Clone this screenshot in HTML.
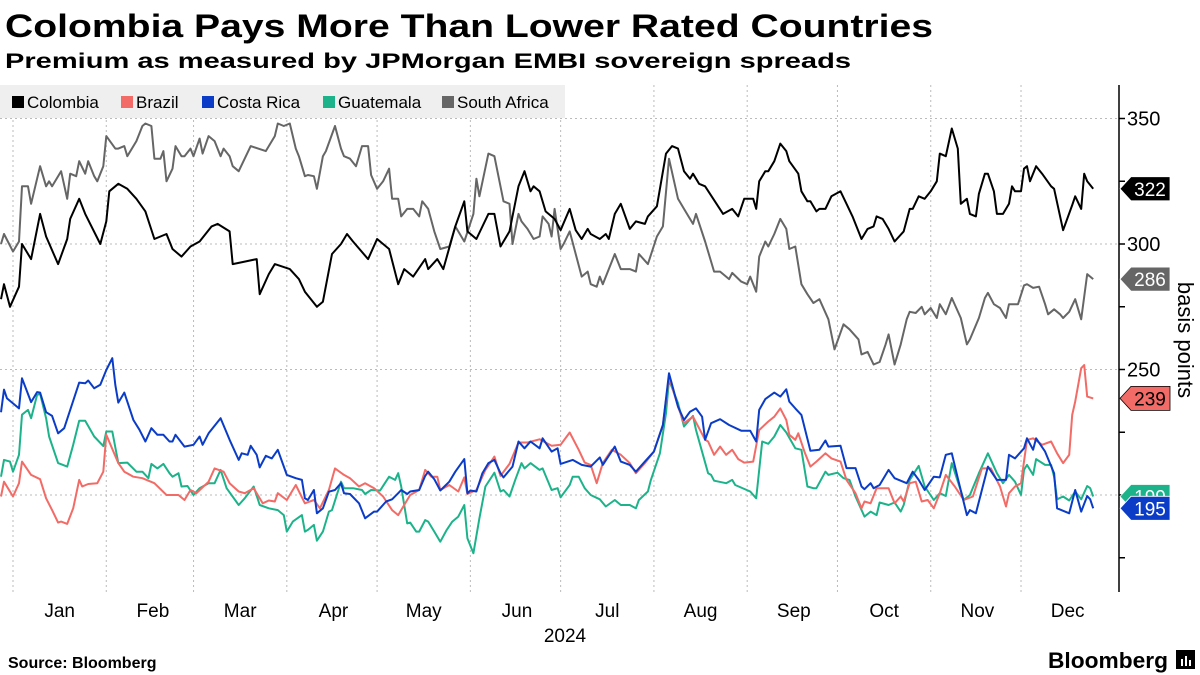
<!DOCTYPE html>
<html><head><meta charset="utf-8">
<style>
html,body{margin:0;padding:0;background:#fff;}
svg{display:block;font-family:"Liberation Sans","DejaVu Sans",sans-serif;}
</style></head>
<body>
<svg id="chart" width="1200" height="675" viewBox="0 0 1200 675" xmlns="http://www.w3.org/2000/svg">
  <text x="5" y="37" font-size="32" font-weight="bold" textLength="928" lengthAdjust="spacingAndGlyphs">Colombia Pays More Than Lower Rated Countries</text>
  <text x="5" y="68" font-size="21" font-weight="bold" textLength="846" lengthAdjust="spacingAndGlyphs">Premium as measured by JPMorgan EMBI sovereign spreads</text>
  <g id="grid"></g>
  <g id="legend">
    <rect x="0" y="85" width="565" height="33" fill="#efefef"/>
  </g>
  <g id="series"></g>
  <g id="axis"></g>
  <g id="xaxis"></g>
  <g id="labels"></g>
  <text transform="translate(1178,340) rotate(90)" text-anchor="middle" font-size="22">basis points</text>
  <text x="8" y="668" font-size="16" font-weight="bold">Source: Bloomberg</text>
  <text x="1048" y="668" font-size="22" font-weight="bold" textLength="120" lengthAdjust="spacingAndGlyphs">Bloomberg</text>
  <g>
    <rect x="1176" y="650" width="19" height="19" fill="#000"/>
    <rect x="1181" y="659" width="2" height="7" fill="#fff"/>
    <rect x="1185" y="656" width="2" height="10" fill="#fff"/>
    <rect x="1189" y="660" width="2" height="6" fill="#fff"/>
  </g>
</svg>
<script>
const yTicks = [350, 300, 250, 200];
const yMinorTicks = [325, 275, 225, 175];
const monthNames = ["Jan","Feb","Mar","Apr","May","Jun","Jul","Aug","Sep","Oct","Nov","Dec"];
const monthStarts = [0,31,60,91,121,152,182,213,244,274,305,335];
const yearLabel = "2024";

const colombiaDays = [-4,-3,-1,2,3,6,9,11,15,18,19,22,24,29,31,32,35,38,41,44,47,51,53,56,59,62,66,68,72,73,77,81,82,85,87,92,95,97,101,103,106,109,111,113,118,121,125,128,130,133,137,138,141,143,147,150,151,154,158,160,162,165,168,170,172,173,175,177,180,182,185,187,189,191,192,195,197,198,200,202,205,207,210,211,214,217,219,221,223,225,226,228,230,236,239,241,243,246,247,248,250,251,253,255,257,258,261,262,264,265,267,268,270,272,275,277,279,282,284,286,287,289,291,293,296,298,299,301,303,305,307,308,310,312,314,315,317,318,320,321,323,324,326,327,329,331,332,333,335,336,337,338,340,342,345,346,349,352,353,355,356,357,359];
const colombiaValues = [278,284,275,283,300,294,312,303,292,302,310,318,312,300,309,321,324,322,318,313,302,304,298,295,299,301,307,308,305,292,293,294,280,288,292,290,286,281,275,277,296,300,304,301,294,302,298,284,290,287,294,290,294,290,307,317,305,302,312,312,299,305,323,329,321,323,321,313,310,305.5,314,305.5,302,306,304,302,304,302,312,316,306,309,308,311,315,336,339,338,329,326,328,324,323,312,314,311,318,318,314,325,329,329,333,340,337,333,328,321,317,317,313,314,314,319,321,316,311,302,306,307,311,310,306,301,305,314,314,319,318,321,325,336,335,346,338,316,318,312,311,320,328,328,321,312,312,316,323,321,321,330,331,325,331,328,323,322,305.5,315.5,319,314,328,325,322];

const brazilDays = [-4,-3,0,2,3,6,9,11,13,15,16,18,20,22,23,25,28,30,31,35,37,40,43,47,51,55,57,59,61,65,67,70,72,75,77,80,83,85,87,88,91,94,97,100,102,105,107,110,112,115,117,120,123,126,128,130,132,135,137,139,141,142,145,148,150,151,154,157,160,162,165,168,171,175,179,182,185,188,190,192,194,196,199,202,205,207,210,213,216,218,221,223,226,228,230,231,233,235,237,239,241,243,246,248,251,253,255,257,258,260,261,263,265,267,270,272,275,277,280,282,283,285,287,290,291,293,295,296,298,300,302,304,306,308,310,313,316,319,322,325,328,330,331,333,335,337,339,342,345,347,349,351,352,353,355,356,357,359];
const brazilValues = [199.4,205.3,199.4,204.7,213.3,208,206.3,198.7,194,189,189.4,188.5,194.7,206,203.4,204.4,204.7,209.3,224,212.7,209.3,207.3,206.7,204.7,200,200,198,202,200.7,205.3,210.6,209.3,204.7,201.4,200.7,202.7,196.7,197.8,197.4,200.7,198,204,196.7,198,194.7,202,210.6,208,206.7,203.4,204.7,202.7,199.4,194,192,196,200,202,210,207.3,207.3,202,204,201.4,207,200.4,202,210,215.3,207.6,212.4,220.9,220.9,222.2,219.6,220,224.9,218,212.9,212,204.7,212.7,218,216,212.7,208.7,212.7,217.3,227.9,247.2,235.2,228.6,231.2,226.6,222,221.3,216,219.3,216,218,214.3,212.9,213.3,225.9,229.3,231.2,234.5,229.9,224,222,224.6,217.3,211.3,213.3,216.6,214.6,213.3,206,200.7,194.7,197.4,196.7,202.7,202.7,202.7,196.7,199.4,197.4,204.7,205.3,197.4,198,194.7,200.7,208,203.4,198,199.4,210.6,210.6,203.4,195.4,200.7,203.4,204.7,221.9,222.6,220,221.3,216.6,212.7,216,231.9,237.2,250.5,251.8,239.2,238.5];

const costaRicaDays = [-4,-3,-2,2,3,6,8,9,11,13,15,17,22,24,25,27,29,31,33,34,35,37,40,42,44,46,48,50,52,53,54,57,60,62,63,65,69,72,75,76,78,79,81,82,84,86,88,91,94,96,97,98,100,101,103,105,107,109,110,112,115,117,120,121,124,126,128,129,131,132,135,137,138,140,142,145,147,150,151,152,154,156,158,160,162,163,166,168,170,172,175,176,179,181,182,186,189,192,195,196,200,202,205,207,210,213,216,218,221,223,225,227,229,230,232,235,238,242,245,247,248,250,253,255,257,258,260,262,265,268,270,271,275,277,280,282,283,285,286,288,291,293,297,299,301,303,306,308,310,312,314,317,318,320,324,327,330,331,333,336,337,339,340,343,346,347,351,353,355,357,358,359];
const costaRicaValues = [233,242,238.5,234.5,246.5,237,241,240.8,233,231.5,224.6,226.6,244.8,244.5,245.6,242.5,243.9,249.8,254.5,243.9,236.8,240.8,229.9,226,221.3,226.6,224,224,221.3,221.3,224,219.3,220,223.3,220,224.6,230.6,222,214,216.6,216,219.6,216,211,215.6,214.6,218,208,206.7,206,198.7,198,202,192.7,194.7,201.3,202,204.7,200.7,200.4,196.7,190.7,193.4,193.4,197.4,198.3,200.7,202,200.4,201.4,202,207.6,209.3,206.3,201.8,205.3,209.3,214.3,200.7,201.8,201.4,208.7,212.7,214,208.7,207,211.3,221.3,218.6,221.3,218.6,222.6,217.3,218.6,212.4,214,212,211.3,215,212,219.3,213.3,212,209.3,213.3,217.3,227.9,248.5,235.2,229.9,233.2,234.5,231.2,222,228.6,230.2,227.9,225.6,225.6,221.3,233.9,238.2,240.8,239.2,242.1,237.2,234.5,231.9,217.6,218,221.7,219.3,219.6,210.7,210.7,203.4,202.3,204.7,202.7,204,210,206.7,204.7,209.3,206,202,207.3,207,216,216.6,206.7,192,194,192.7,211.3,206,206,216,214.6,218.6,222.6,218,222.6,217.3,208.7,194.7,192.7,202,193.4,199.6,198.3,194.7];

const guatemalaDays = [-4,-3,-1,0,2,3,5,6,8,9,11,12,15,18,20,22,24,27,30,31,33,35,38,41,43,45,46,48,50,52,53,55,56,58,60,62,65,67,69,71,75,77,80,82,85,88,90,91,93,96,97,98,100,101,103,105,106,109,110,113,116,117,119,122,125,127,128,129,131,132,134,135,137,138,140,142,144,146,148,150,151,153,155,157,160,162,163,165,167,169,170,172,175,176,179,181,182,185,186,188,190,192,195,197,200,202,205,207,208,211,212,215,217,218,221,223,226,227,231,232,233,237,239,240,245,247,249,251,253,255,257,260,262,264,266,267,270,271,274,276,278,280,283,285,287,288,291,293,295,296,298,301,303,306,308,310,312,316,318,321,324,327,329,331,333,335,336,337,339,340,343,345,346,347,349,351,353,355,357,358,359];
const guatemalaValues = [207.3,214,213.3,209.3,216,232,233.9,230.6,239.9,240.3,230.6,223.3,212.7,211.3,220,229.6,229.6,223.3,219.5,225.3,225.3,212.7,212.9,209.3,209.3,206.7,212.4,210.6,212.4,208.7,207.3,208.7,203.4,203.6,200,202.7,204.7,204.7,210,202.7,196,198.7,203.4,196,194.7,194,192,185.4,189.4,192,185.4,186.1,188.1,181.8,185.4,193.4,194,205.3,202.7,202.7,202,200.4,202,201.8,207.3,206,208.7,203.4,188.7,189,185.4,185.4,190,189.4,185.4,181.4,185.8,189.4,191.4,196,182.8,176.8,190.7,203.4,208.9,201.4,202,199.4,206.3,212.7,210.6,212.7,210,210.6,202,202.7,199.1,204,207.3,207.3,202.7,200,198.3,195.4,198,196,196,194.7,198,201.4,206,216.6,232.6,245.8,236.6,227.3,231.5,225.9,208.7,208,205.7,204.7,206,204,201.4,198.7,221.3,220.4,223.3,227.9,224.9,218.6,218,203.4,202.7,202.7,209.3,208,208.9,206.7,206,199.4,191.4,193.4,192,197,196,197,193.4,196,206,211.6,203.4,198,200.7,199.6,212.7,198,200,208.7,216.6,208.7,204.7,208,205.3,200,210,212,208,214.3,212,212,207.3,198.3,199.4,197.8,201.4,198.3,203.6,202.7,199.4];

const southAfricaDays = [-4,-3,0,2,3,5,6,8,9,11,12,13,16,18,19,21,22,24,25,27,28,30,31,34,35,37,38,41,43,44,46,47,49,50,51,53,54,56,57,59,60,62,63,65,67,69,70,72,73,75,79,84,86,87,88,90,92,94,95,97,98,100,101,103,104,107,109,110,112,114,116,118,119,121,123,125,126,128,129,131,133,135,136,138,140,142,145,147,150,153,154,155,158,160,163,165,166,168,169,171,173,175,176,178,179,180,182,183,185,187,189,191,192,194,195,196,200,202,205,207,208,211,214,216,218,221,223,226,227,230,233,235,238,239,242,244,245,247,248,250,251,253,255,257,258,260,262,264,266,268,271,273,276,278,281,282,284,286,288,290,291,293,295,297,298,300,302,303,305,307,308,310,312,315,317,318,321,323,324,326,328,330,331,333,334,336,337,339,341,343,344,346,348,349,351,353,355,357,358,359];
const southAfricaValues = [300,304,297,301,323,323,316,326,331,323,325,323,329,318,328,327,333,328,333,327,325,331,343,338,338,339,335,341,347,348,347,334,334,337,325,330,339,335,335,338,335,342,336,343,341,335,338,335,331,329,339,337,341,343,348,347,348,338,335,327,327.5,327,322,335,337,347,338,335,334,331,339,339,327.5,322,325,330,318,318,311,314,314,311,317,314,305,298,299,307,301,312,326,319,336,335,317,316,300,312,309,306,302,303,311,308,303,314,298,300,305,296,287,289,284,283,287,284,296,290,290,289,296,292,303,307,334,318,314,308,312,301,289,289,286,288.5,285,284,287,281,295,301,299,304,310,306,298,299,284,280,276.5,278,270,258,268,266,262,256,257,252,253,260,264,252,260,270,273,272.5,275,272,274.5,270.5,276,272,278.5,270.5,260,262,270.5,278.5,280.5,276,274.5,270.5,276,276,276,283.5,284,282.5,283,276,272,274,272,270.5,273,278,270,288,287,286];

const NS = "http://www.w3.org/2000/svg";
function xScale(d){ return 13 + d * 3.009; }
function yScale(v){ return 244 - (v - 300) * 2.51; }
function mk(tag, attrs, parent){
  const el = document.createElementNS(NS, tag);
  for (const k in attrs) el.setAttribute(k, attrs[k]);
  parent.appendChild(el);
  return el;
}
const grid = document.getElementById('grid');
const axis = document.getElementById('axis');
const xaxis = document.getElementById('xaxis');
const seriesG = document.getElementById('series');
const labelsG = document.getElementById('labels');
const legendG = document.getElementById('legend');

yTicks.forEach(t => {
  const y = yScale(t);
  const gl = mk('line', {x1:0, x2:1118, y1:y, y2:y, stroke:'#bbb', 'stroke-width':1, 'stroke-dasharray':'2,3'}, grid);
  
  
  const tk = mk('line', {x1:1119, x2:1125, y1:y, y2:y, stroke:'#000', 'stroke-width':1.5}, axis);
  
  
  const tl = mk('text', {x:1127, y:y+7, 'font-size':20}, axis);
  tl.textContent = t;
  
  
});
yMinorTicks.forEach(t => {
  const y = yScale(t);
  const tk = mk('line', {x1:1119, x2:1125, y1:y, y2:y, stroke:'#000', 'stroke-width':1.5}, axis);
  
  
});
const axLine = mk('line', {x1:1119, x2:1119, y1:85, y2:592, stroke:'#000', 'stroke-width':1.5}, axis);



monthStarts.forEach((d, i) => {
  const x = xScale(d);
  const gl = mk('line', {x1:x, x2:x, y1:85, y2:592, stroke:'#bbb', 'stroke-width':1, 'stroke-dasharray':'2,3'}, grid);
  
  
  const tl = mk('text', {x:xScale(d + 15.5), y:617, 'font-size':19, 'text-anchor':'middle'}, xaxis);
  tl.textContent = monthNames[i];
  
  
});
const yl = mk('text', {x:565, y:642, 'font-size':19, 'text-anchor':'middle'}, xaxis);
yl.textContent = yearLabel;



const seriesDefs = [
  {name:'South Africa', key:'south-africa', days:southAfricaDays, vals:southAfricaValues, color:'#666666', text:'#fff'},
  {name:'Guatemala', key:'guatemala', days:guatemalaDays, vals:guatemalaValues, color:'#1db38a', text:'#fff'},
  {name:'Brazil', key:'brazil', days:brazilDays, vals:brazilValues, color:'#f26b66', text:'#000'},
  {name:'Costa Rica', key:'costa-rica', days:costaRicaDays, vals:costaRicaValues, color:'#0a3cc8', text:'#fff'},
  {name:'Colombia', key:'colombia', days:colombiaDays, vals:colombiaValues, color:'#000000', text:'#fff'}
];
seriesDefs.forEach(s => {
  const pts = s.days.map((d, i) => xScale(d).toFixed(1) + ',' + yScale(s.vals[i]).toFixed(1)).join(' ');
  const pl = mk('polyline', {points:pts, fill:'none', stroke:s.color, 'stroke-width':2, 'stroke-linejoin':'round'}, seriesG);
  
  
});
seriesDefs.forEach(s => {
  const last = s.vals[s.vals.length - 1];
  const y = yScale(last);
  const g = mk('g', {}, labelsG);
  
  
  mk('polygon', {points:`1120,${y} 1131,${y-12} 1170,${y-12} 1170,${y+12} 1131,${y+12}`, fill:s.color, stroke:s.text === '#000' ? '#000' : '#fff', 'stroke-width':0.8}, g);
  const t = mk('text', {x:1150, y:y+7, 'font-size':19, 'text-anchor':'middle', fill:s.text}, g);
  t.textContent = Math.round(last);
});

const legendItems = [
  {name:'Colombia', color:'#000000', x:12},
  {name:'Brazil', color:'#f26b66', x:121},
  {name:'Costa Rica', color:'#0a3cc8', x:202},
  {name:'Guatemala', color:'#1db38a', x:323},
  {name:'South Africa', color:'#666666', x:442}
];
legendItems.forEach(it => {
  const g = mk('g', {}, legendG);
  
  
  mk('rect', {x:it.x, y:96, width:12, height:12, fill:it.color}, g);
  const t = mk('text', {x:it.x + 15, y:108, 'font-size':17}, g);
  t.textContent = it.name;
});
</script>
</body></html>
